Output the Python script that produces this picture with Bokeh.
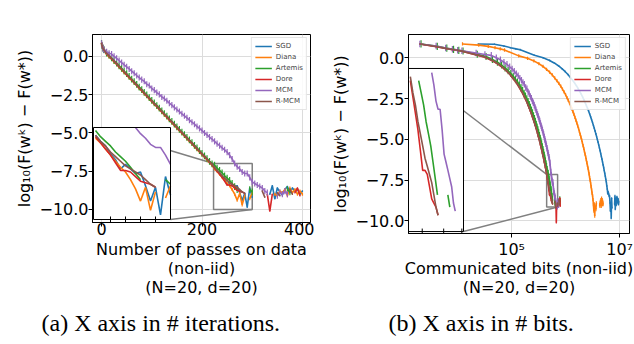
import numpy as np
from bokeh.plotting import figure
from bokeh.models import (ColumnDataSource, FixedTicker, Legend, LegendItem,
                          Range1d, Title, LinearScale, LogScale)
from bokeh.embed import file_html
from bokeh.resources import INLINE

nan = float("nan")

# ---------------- data ----------------
series_names = ["SGD", "Diana", "Artemis", "Dore", "MCM", "R-MCM"]
series_colors = ["#1f77b4", "#ff7f0e", "#2ca02c", "#d62728", "#9467bd", "#8c564b"]

passes = [0, 1, 2, 3, 4] + list(range(5, 405, 5))

sgd = [0.85, 0.83, 0.72, 0.62, 0.55, 0.50, 0.16, 0.00, -0.16, -0.33,
       -0.50, -0.68, -0.85, -1.02, -1.20, -1.37, -1.54, -1.71, -1.89, -2.06,
       -2.23, -2.41, -2.58, -2.75, -2.93, -3.10, -3.27, -3.44, -3.62, -3.79,
       -3.96, -4.14, -4.31, -4.48, -4.66, -4.83, -5.00, -5.17, -5.35, -5.52,
       -5.69, -5.87, -6.04, -6.21, -6.39, -6.56, -6.73, -6.91, -7.08, -7.25,
       -7.45, -7.60, -7.85, -8.05, -8.35, -8.20, -8.35, -8.50, -8.45, -8.90,
       -9.40, -8.95, -9.85, -8.60, -9.20, nan, nan, nan, nan, nan,
       nan, -9.00, -8.45, -9.30, -8.60, -8.85, -9.05, -8.70, -8.50, -8.90,
       -8.60, -8.80, -8.65, -9.00, -8.80]

diana = [0.85, 0.78, 0.70, 0.62, 0.55, 0.48, 0.12, -0.03, -0.19, -0.36,
         -0.53, -0.71, -0.88, -1.05, -1.23, -1.40, -1.57, -1.74, -1.92, -2.09,
         -2.26, -2.44, -2.61, -2.78, -2.96, -3.13, -3.30, -3.47, -3.65, -3.82,
         -3.99, -4.17, -4.34, -4.51, -4.69, -4.86, -5.03, -5.20, -5.38, -5.55,
         -5.72, -5.90, -6.07, -6.24, -6.42, -6.59, -6.76, -6.94, -7.11, -7.35,
         -7.50, -7.70, -7.90, -8.10, -8.30, -8.45, -8.70, -9.00, -9.40, -8.95,
         -9.70, -9.10, nan, -9.30, -8.90, nan, nan, nan, nan, nan,
         nan, nan, nan, -9.00, -9.10, -8.80, -8.90, -8.70, -9.10, -8.60,
         -8.90, -8.70, -9.00, -8.80, -9.00]

artemis = [0.85, 0.70, 0.59, 0.52, 0.46, 0.42, 0.22, 0.08, -0.10, -0.27,
           -0.44, -0.62, -0.79, -0.96, -1.13, -1.31, -1.48, -1.65, -1.83, -2.00,
           -2.17, -2.35, -2.52, -2.69, -2.87, -3.04, -3.21, -3.38, -3.56, -3.73,
           -3.90, -4.08, -4.25, -4.42, -4.60, -4.77, -4.94, -5.11, -5.29, -5.46,
           -5.63, -5.81, -5.98, -6.15, -6.33, -6.50, -6.67, -6.85, -7.02, -7.10,
           -7.30, -7.45, -7.60, -7.80, -7.95, -8.10, -8.30, -8.50, -8.70, nan,
           nan, nan, nan, -8.70, -8.85, nan, nan, nan, nan, nan,
           nan, nan, nan, nan, nan, nan, nan, nan, -8.70, -8.85,
           nan, nan, nan, nan, nan]

dore = [0.85, 0.68, 0.57, 0.50, 0.45, 0.40, 0.18, 0.03, -0.15, -0.32,
        -0.49, -0.67, -0.84, -1.01, -1.19, -1.36, -1.53, -1.70, -1.88, -2.05,
        -2.22, -2.40, -2.57, -2.74, -2.92, -3.09, -3.26, -3.43, -3.61, -3.78,
        -3.95, -4.13, -4.30, -4.47, -4.65, -4.82, -4.99, -5.16, -5.34, -5.51,
        -5.68, -5.86, -6.03, -6.20, -6.38, -6.55, -6.72, -6.90, -7.07, -7.30,
        -7.50, -7.70, -7.90, -8.15, -8.40, -8.40, -8.45, -8.60, -8.75, -8.80,
        -8.85, -8.95, nan, nan, nan, nan, nan, nan, nan, nan,
        -9.00, -10.10, -9.00, nan, nan, nan, nan, nan, nan, nan,
        nan, -8.90, -8.60, -9.10, nan]

mcm = [0.85, 0.72, 0.60, 0.52, 0.47, 0.43, 0.30, 0.20, 0.15, 0.00,
       -0.12, -0.27, -0.40, -0.55, -0.68, -0.82, -0.97, -1.10, -1.25, -1.38,
       -1.52, -1.62, -1.82, -1.90, -2.10, -2.20, -2.37, -2.48, -2.65, -2.75,
       -2.90, -3.05, -3.18, -3.33, -3.47, -3.60, -3.75, -3.88, -4.02, -4.16,
       -4.30, -4.43, -4.58, -4.70, -4.85, -5.00, -5.13, -5.27, -5.40, -5.55,
       -5.70, -5.83, -5.97, -6.10, -6.25, -6.45, -6.70, -7.00, -7.20, -7.35,
       -7.55, -7.65, -7.65, -7.90, -8.20, -8.30, -8.40, -8.50, -8.60, -8.80,
       -8.90, nan, nan, nan, -9.10, -8.90, -9.00, -8.80, -9.00, nan,
       nan, nan, nan, nan, nan]

rmcm = [0.85, 0.69, 0.58, 0.51, 0.46, 0.41, 0.19, 0.05, -0.13, -0.30,
        -0.47, -0.65, -0.82, -0.99, -1.17, -1.34, -1.51, -1.68, -1.86, -2.03,
        -2.20, -2.38, -2.55, -2.72, -2.90, -3.07, -3.24, -3.41, -3.59, -3.76,
        -3.93, -4.11, -4.28, -4.45, -4.63, -4.80, -4.97, -5.14, -5.32, -5.49,
        -5.66, -5.84, -6.01, -6.18, -6.36, -6.53, -6.70, -6.88, -7.05, -7.25,
        -7.45, -7.60, -7.80, -7.95, -8.10, -8.25, -8.35, -8.45, -8.55, -8.70,
        -8.85, -8.95, nan, nan, nan, nan, nan, nan, -8.80, -9.20,
        nan, nan, nan, nan, -8.90, -9.10, nan, nan, nan, -8.70,
        -9.00, nan, nan, nan, nan]

series_values = [sgd, diana, artemis, dore, mcm, rmcm]
error_halfwidth = [0.05, 0.10, 0.22, 0.05, 0.20, 0.05]
bits_per_pass = [24000, 12300, 2100, 2000, 2000, 2000]

y_ticks = [-10, -7.5, -5, -2.5, 0]
y_tick_labels = ["\u221210.0", "\u22127.5", "\u22125.0", "\u22122.5", "0.0"]
x_ticks_passes = [0, 200, 400]
x_ticks_bits = [100000, 10000000]
x_tick_labels_bits = ["10\u2075", "10\u2077"]

y_title = "log\u2081\u2080(F(w\u1d4f) \u2212 F(w*))"
x_title_a = "Number of passes on data\n(non-iid)\n(N=20, d=20)"
x_title_b = "Communicated bits (non-iid)\n(N=20, d=20)"
caption_a = "(a) X axis in # iterations."
caption_b = "(b) X axis in # bits."

zoom_a_x, zoom_a_y = (223, 300), (-10.0, -7.0)
zoom_b_x, zoom_b_y = (4.45e5, 7.1e5), (-9.15, -7.15)
inset_a_xticks = [240, 255, 270, 285]
inset_b_xticks = [5e5, 6e5, 7e5]

# ---------------- layout / style (page pixels) ----------------
FONT = "DejaVu Sans"
SERIF = "Liberation Serif"
FS = "16px"
GREY = "#808080"
H = 344

A_X0 = 0
A_L, A_FW, A_R, A_T, A_FH = 92, 218, 4, 34, 188
A_W = A_L + A_FW + A_R
A_XR, A_YR = (-18, 416), (-10.85, 1.43)
A_INSET = (93, 127, 77, 92)                      # inset box, figure px

B_X0 = A_W
B_W = 634 - B_X0
B_L, B_FW, B_T, B_FH = 94, 221, 34, 205
B_R = B_W - B_L - B_FW
B_LOG0, B_PX_PER_DEC = 3.09, 54.0
B_XR = (10 ** B_LOG0, 10 ** (B_LOG0 + B_FW / B_PX_PER_DEC))
B_YR = (-10.77, 1.43)
B_INSET = (B_L, 69, 55, 168)


def style_axes(p):
    for ax in p.axis:
        ax.axis_line_color = "black"
        ax.major_tick_line_color = "black"
        ax.major_tick_out = 4
        ax.major_tick_in = 0
        ax.minor_tick_out = 0
        ax.minor_tick_in = 0
        ax.major_label_text_font = FONT
        ax.major_label_text_font_size = FS
        ax.major_label_text_color = "black"
        ax.axis_label_text_font = FONT
        ax.axis_label_text_font_size = FS
        ax.axis_label_text_font_style = "normal"
        ax.axis_label_text_color = "black"
        ax.axis_label_text_line_height = 1.0


def px_to_data(px, py, frame, xr, yr, log=False):
    fx, fy, fw, fh = frame
    t = (px - fx) / fw
    if log:
        x = 10 ** (np.log10(xr[0]) + t * (np.log10(xr[1]) - np.log10(xr[0])))
    else:
        x = xr[0] + t * (xr[1] - xr[0])
    y = yr[1] - (py - fy) / fh * (yr[1] - yr[0])
    return x, y


def main_fig(w, left, right, top, fh, xr, yr, log):
    p = figure(width=w, height=H, min_border_left=left, min_border_top=top,
               min_border_right=right, min_border_bottom=H - top - fh,
               x_range=Range1d(*xr), y_range=Range1d(*yr),
               x_axis_type="log" if log else "linear",
               output_backend="svg", toolbar_location=None)
    p.outline_line_color = "black"
    p.outline_line_width = 1
    p.grid.grid_line_color = "#dcdcdc"
    p.grid.grid_line_width = 1
    style_axes(p)
    p.yaxis.ticker = FixedTicker(ticks=y_ticks, minor_ticks=[])
    p.yaxis.major_label_overrides = dict(zip(y_ticks, y_tick_labels))
    p.yaxis.axis_label = y_title
    p.yaxis.axis_label_standoff = 2
    p.yaxis.major_label_standoff = 0
    return p


def add_series(p, xs_list, legend=False):
    items = []
    for name, color, xs, ys, e in zip(series_names, series_colors, xs_list,
                                      series_values, error_halfwidth):
        y = np.array(ys, dtype=float)
        src = ColumnDataSource(dict(x=np.array(xs, dtype=float), y=y, lo=y - e, hi=y + e))
        p.segment(x0="x", y0="lo", x1="x", y1="hi", source=src,
                  line_color=color, line_width=1.2)
        r = p.line("x", "y", source=src, line_color=color, line_width=1.6)
        if legend:
            m = p.scatter(x=[], y=[], marker="cross", line_color=color,
                          line_width=1.6, size=8)
            items.append(LegendItem(label=name, renderers=[r, m]))
    if legend:
        lg = Legend(items=items, location="top_right", margin=3, padding=3,
                    spacing=1, glyph_width=17, glyph_height=10, label_height=10,
                    label_standoff=4, label_text_font=FONT,
                    label_text_font_size="7px", border_line_color="#cccccc",
                    border_line_width=1, background_fill_alpha=0.85)
        p.add_layout(lg)


def add_inset(p, xs_list, zx, zy, inset, frame, log, xticks):
    """Zoomed view drawn in the same figure through an extra range pair that
    puts the zoom window on the inset box; only points inside the window."""
    ix, iy, iw, ih = inset
    fx, fy, fw, fh = frame
    if log:
        l0, l1 = np.log10(zx[0]), np.log10(zx[1])
        s = l0 - (ix - fx) * (l1 - l0) / iw
        xr = Range1d(10 ** s, 10 ** (s + fw * (l1 - l0) / iw))
        p.extra_x_scales = {"ins": LogScale()}
    else:
        s = zx[0] - (ix - fx) * (zx[1] - zx[0]) / iw
        xr = Range1d(s, s + fw * (zx[1] - zx[0]) / iw)
        p.extra_x_scales = {"ins": LinearScale()}
    bottom_px = (fy + fh) - (iy + ih)
    sy = zy[0] - bottom_px * (zy[1] - zy[0]) / ih
    yr = Range1d(sy, sy + fh * (zy[1] - zy[0]) / ih)
    p.extra_x_ranges = {"ins": xr}
    p.extra_y_ranges = {"ins": yr}
    p.extra_y_scales = {"ins": LinearScale()}
    kw = dict(x_range_name="ins", y_range_name="ins")

    p.quad(left=[zx[0]], right=[zx[1]], bottom=[zy[0]], top=[zy[1]],
           fill_color="white", line_color=None, **kw)
    for color, xs, ys in zip(series_colors, xs_list, series_values):
        x = np.array(xs, dtype=float)
        y = np.array(ys, dtype=float)
        inside = (x >= zx[0]) & (x <= zx[1]) & (y >= zy[0]) & (y <= zy[1])
        src = ColumnDataSource(dict(x=x, y=np.where(inside, y, nan)))
        p.line("x", "y", source=src, line_color=color, line_width=1.6, **kw)
    p.quad(left=[zx[0]], right=[zx[1]], bottom=[zy[0]], top=[zy[1]],
           fill_color=None, line_color="black", line_width=1, **kw)
    p.scatter(x=xticks, y=[zy[0]] * len(xticks), marker="dash", angle=np.pi / 2,
              size=6, line_color="black", line_width=1, **kw)


def zoom_marks(p, zx, zy, inset, frame, xr, yr, log):
    ix, iy, iw, ih = inset
    tl = px_to_data(ix, iy, frame, xr, yr, log)
    br = px_to_data(ix + iw, iy + ih, frame, xr, yr, log)
    p.quad(left=[zx[0]], right=[zx[1]], bottom=[zy[0]], top=[zy[1]],
           fill_color=None, line_color=GREY, line_width=1.5)
    p.segment(x0=[tl[0], br[0]], y0=[tl[1], br[1]], x1=[zx[0], zx[1]],
              y1=[zy[1], zy[0]], line_color=GREY, line_width=1.5)


def caption(text, offset, standoff):
    return Title(text=text, align="left", offset=offset, standoff=standoff,
                 text_font=SERIF, text_font_size="24px",
                 text_font_style="normal", text_color="black",
                 text_line_height=1.0)


# ---------------- panel (a) ----------------
frame_a = (A_L, A_T, A_FW, A_FH)
xs_a = [passes] * len(series_names)
pa = main_fig(A_W, A_L, A_R, A_T, A_FH, A_XR, A_YR, log=False)
pa.xaxis.ticker = FixedTicker(ticks=x_ticks_passes, minor_ticks=[])
pa.xaxis.axis_label = x_title_a
pa.xaxis.major_label_standoff = -4
pa.xaxis.axis_label_standoff = 2
zoom_marks(pa, zoom_a_x, zoom_a_y, A_INSET, frame_a, A_XR, A_YR, False)
add_series(pa, xs_a, legend=True)
add_inset(pa, xs_a, zoom_a_x, zoom_a_y, A_INSET, frame_a, False, inset_a_xticks)
pa.add_layout(caption(caption_a, 41 - A_L, 17), "below")

# ---------------- panel (b) ----------------
frame_b = (B_L, B_T, B_FW, B_FH)
xs_b = [[(p + 1) * b for p in passes] for b in bits_per_pass]
pb = main_fig(B_W, B_L, B_R, B_T, B_FH, B_XR, B_YR, log=True)
pb.xaxis.ticker = FixedTicker(ticks=x_ticks_bits, minor_ticks=[])
pb.xaxis.major_label_overrides = dict(zip(x_ticks_bits, x_tick_labels_bits))
pb.xaxis.axis_label = x_title_b
pb.xaxis.major_label_standoff = 2
pb.xaxis.axis_label_standoff = -3
zoom_marks(pb, zoom_b_x, zoom_b_y, B_INSET, frame_b, B_XR, B_YR, True)
add_series(pb, xs_b, legend=True)
add_inset(pb, xs_b, zoom_b_x, zoom_b_y, B_INSET, frame_b, True, inset_b_xticks)
pb.add_layout(caption(caption_b, 388 - B_X0 - B_L, 17), "below")
# independent placement (no frame alignment with panel a)
pb.styles = {"position": "absolute", "left": f"{B_X0}px", "top": "0px"}

open("out.html", "w").write(file_html([pa, pb], INLINE))
